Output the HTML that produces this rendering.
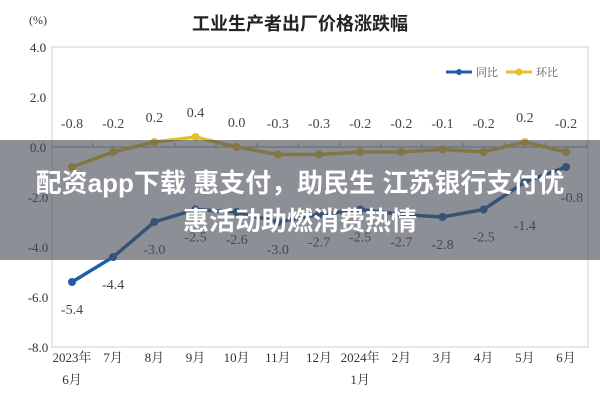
<!DOCTYPE html>
<html><head><meta charset="utf-8"><style>
body{margin:0;width:600px;height:400px;overflow:hidden;background:#fff;font-family:"Liberation Serif","Noto Serif CJK SC",serif}
#ov{position:absolute;left:0;top:140px;width:600px;height:120px;background:rgba(70,75,85,0.62);color:#fff;font-family:"Liberation Sans","Noto Sans CJK SC",sans-serif;font-weight:bold;font-size:26px;text-align:center;line-height:38px;padding-top:24px;box-sizing:border-box;white-space:nowrap}
</style></head><body>
<svg id="c" width="600" height="400" style="position:absolute;left:0;top:0"></svg>
<div id="ov">配资app下载 惠支付，助民生 江苏银行支付优<br>惠活动助燃消费热情</div>
<script>
const categories=["2023年|6月","7月","8月","9月","10月","11月","12月","2024年|1月","2月","3月","4月","5月","6月"];
const yoy=[-5.4,-4.4,-3.0,-2.5,-2.6,-3.0,-2.7,-2.5,-2.7,-2.8,-2.5,-1.4,-0.8];
const mom=[-0.8,-0.2,0.2,0.4,0.0,-0.3,-0.3,-0.2,-0.2,-0.1,-0.2,0.2,-0.2];
const yTicks=[4,2,0,-2,-4,-6,-8];
const svg=document.getElementById('c');const NS='http://www.w3.org/2000/svg';
function X(i){return 72+i*(566-72)/(categories.length-1);}
function Y(v){return 147-v*25;}
function mk(t,a,p){const e=document.createElementNS(NS,t);for(const k in a)e.setAttribute(k,a[k]);(p||svg).appendChild(e);return e;}
function tx(x,y,s,a,sz,col){const e=mk('text',{x:x,y:y,'text-anchor':a||'middle','font-size':sz||13,fill:col||'#333'});e.textContent=s;return e;}
let t=tx(300,30,'工业生产者出厂价格涨跌幅','middle',18,'#222');t.setAttribute('font-family','"Liberation Sans","Noto Sans CJK SC",sans-serif');t.setAttribute('font-weight','bold');


t=tx(38,24,'(%)','middle',12);


let r=mk('rect',{x:52,y:Y(4),width:536,height:Y(-8)-Y(4),fill:'none',stroke:'#d0d0d0'});


mk('line',{x1:52,x2:588,y1:Y(0),y2:Y(0),stroke:'#999'});
yTicks.forEach(v=>{const e=tx(38,Y(v)+5,v.toFixed(1),'middle',13);

});
categories.forEach((c,i)=>{const x=X(i);mk('line',{x1:x+20.6,x2:x+20.6,y1:Y(0)-4,y2:Y(0),stroke:'#999'});
const p=c.split('|');const e=tx(x,362,p[0],'middle',13);


if(p[1]){const e2=tx(x,384,p[1],'middle',13);

}});
function series(vals,col,name,labelAbove){
const l=mk('polyline',{points:vals.map((v,i)=>X(i)+','+Y(v)).join(' '),fill:'none',stroke:col,'stroke-width':3.5});


vals.forEach((v,i)=>{const m=mk('circle',{cx:X(i),cy:Y(v),r:4,fill:col});


let ly;if(labelAbove)ly=Math.min(Y(v)-20,128);else ly=(i>=11)?Y(v)+(i==12?35:48):Y(v)+32;
const lx=(!labelAbove&&i==12)?X(i)+6:X(i);
const e=tx(lx,ly,v.toFixed(1),'middle',14,'#444');

});}
series(mom,'#e8be2a','mom',true);
series(yoy,'#1f5fa8','yoy',false);
let g=mk('g',{});
mk('line',{x1:446,x2:472,y1:72,y2:72,stroke:'#1f5fa8','stroke-width':3},g);mk('circle',{cx:459,cy:72,r:3,fill:'#1f5fa8'},g);
let a=tx(476,76,'同比','start',11,'#555');g.appendChild(a);
mk('line',{x1:506,x2:532,y1:72,y2:72,stroke:'#e8be2a','stroke-width':3},g);mk('circle',{cx:519,cy:72,r:3.5,fill:'#e8be2a'},g);
a=tx(536,76,'环比','start',11,'#555');g.appendChild(a);
</script>
</body></html>
